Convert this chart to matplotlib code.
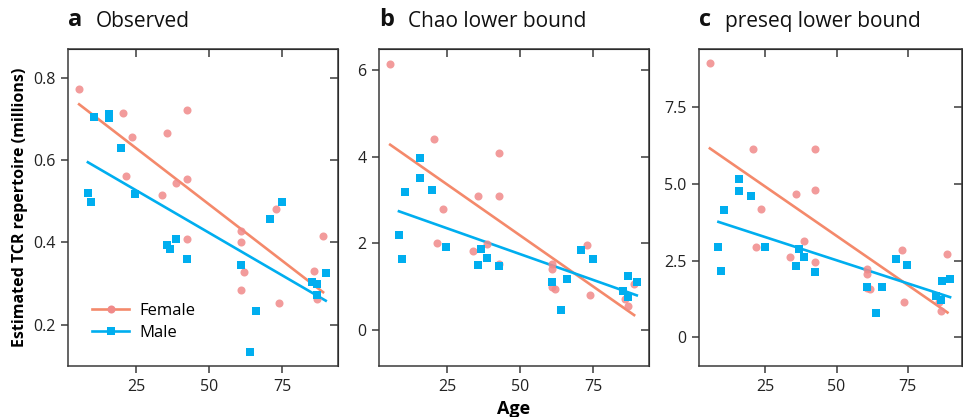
import numpy as np
import matplotlib
matplotlib.use("Agg")
import matplotlib.pyplot as plt

plt.rcParams['font.family'] = ['Open Sans', 'DejaVu Sans']

# ages (same donors in every panel)
female_age = [5.6, 20.7, 42.6, 23.6, 35.7, 21.7, 38.7, 42.6, 33.8, 42.6,
              60.8, 60.8, 61.8, 60.8, 72.8, 73.7, 88.9, 85.8, 86.7]
male_age = [8.6, 9.5, 10.7, 15.8, 15.8, 19.9, 24.8, 35.7, 36.7, 38.6,
            42.6, 60.8, 63.9, 66.0, 70.7, 74.8, 85.0, 86.9, 86.7, 89.8]

# a: observed (millions)
female_observed = [0.772, 0.715, 0.722, 0.656, 0.665, 0.562, 0.545, 0.554, 0.515, 0.409,
                   0.429, 0.400, 0.329, 0.285, 0.482, 0.254, 0.415, 0.330, 0.263]
male_observed = [0.521, 0.499, 0.705, 0.712, 0.703, 0.630, 0.519, 0.394, 0.385, 0.409,
                 0.359, 0.345, 0.133, 0.233, 0.456, 0.499, 0.303, 0.300, 0.273, 0.326]

# b: Chao lower bound
female_chao = [6.14, 4.41, 4.09, 2.79, 3.10, 2.01, 1.99, 3.08, 1.82, 1.53,
               1.53, 1.41, 0.94, 1.00, 1.97, 0.80, 1.07, 0.71, 0.55]
male_chao = [2.19, 1.63, 3.18, 3.96, 3.50, 3.22, 1.91, 1.50, 1.87, 1.67,
             1.47, 1.10, 0.46, 1.17, 1.85, 1.64, 0.90, 1.24, 0.77, 1.11]

# c: preseq lower bound
female_preseq = [8.92, 6.13, 6.13, 4.16, 4.67, 2.94, 3.13, 4.80, 2.63, 2.45,
                 2.21, 2.06, 1.56, 1.62, 2.84, 1.15, 2.72, 1.15, 0.86]
male_preseq = [2.94, 2.15, 4.15, 5.16, 4.76, 4.60, 2.94, 2.31, 2.86, 2.62,
               2.12, 1.64, 0.79, 1.64, 2.55, 2.36, 1.35, 1.84, 1.21, 1.90]

panels = [
    ("a", "Observed", female_observed, male_observed,
     (0.10, 0.87), [0.2, 0.4, 0.6, 0.8], ["0.2", "0.4", "0.6", "0.8"]),
    ("b", "Chao lower bound", female_chao, male_chao,
     (-0.83, 6.48), [0, 2, 4, 6], ["0", "2", "4", "6"]),
    ("c", "preseq lower bound", female_preseq, male_preseq,
     (-0.93, 9.38), [0, 2.5, 5.0, 7.5], ["0", "2.5", "5.0", "7.5"]),
]

FEMALE_DOT = "#f08a8a"
FEMALE_LINE = "#f4896b"
MALE = "#00aeef"
SPINE = "#3a3a3a"

fig = plt.figure(figsize=(9.63, 4.17), dpi=100)
boxes = [(0.0706, 0.1223, 0.2804, 0.7602),
         (0.3936, 0.1223, 0.2804, 0.7602),
         (0.7259, 0.1223, 0.2731, 0.7602)]

for (letter, name, fvals, mvals, ylim, yticks, ylabels), box in zip(panels, boxes):
    ax = fig.add_axes(box)

    # linear fits over each group's age range
    fa, fv = np.array(female_age), np.array(fvals)
    ma, mv = np.array(male_age), np.array(mvals)
    fk = np.polyfit(fa, fv, 1)
    mk = np.polyfit(ma, mv, 1)
    fx = np.array([fa.min(), fa.max()])
    mx = np.array([ma.min(), ma.max()])
    ax.plot(fx, np.polyval(fk, fx), color=FEMALE_LINE, lw=1.9, zorder=2)
    ax.plot(mx, np.polyval(mk, mx), color=MALE, lw=1.9, zorder=2)

    ax.plot(fa, fv, 'o', color=FEMALE_DOT, ms=5.8, mew=0, alpha=0.85, zorder=3)
    ax.plot(ma, mv, 's', color=MALE, ms=6.2, mew=0, zorder=3)

    ax.set_xlim(1.8, 94)
    ax.set_ylim(*ylim)
    ax.set_xticks([25, 50, 75])
    ax.set_yticks(yticks)
    ax.set_yticklabels(ylabels)
    for s in ax.spines.values():
        s.set_color(SPINE)
        s.set_linewidth(1.1)
    ax.tick_params(direction='out', length=5, width=1.1, color=SPINE,
                   labelsize=11.5, labelcolor="#222222", pad=4)

    # inward ticks on top and right
    top = ax.secondary_xaxis('top')
    top.set_xticks([25, 50, 75])
    top.tick_params(direction='in', length=6, width=1.1, color=SPINE, labeltop=False)
    right = ax.secondary_yaxis('right')
    right.set_yticks(yticks)
    right.tick_params(direction='in', length=6, width=1.1, color=SPINE, labelright=False)

    t = ax.text(0.0, 1.055, letter, transform=ax.transAxes, fontsize=17,
                fontweight='bold', ha='left', va='bottom', color="#111111")
    ax.annotate(name, xy=(1, 0), xycoords=t, xytext=(10, 0),
                textcoords='offset points', fontsize=15, ha='left', va='bottom',
                color="#111111")

    if letter == "a":
        ax.set_ylabel("Estimated TCR repertoire (millions)", fontsize=11.5,
                      fontweight='bold', labelpad=4)
        ax.plot([], [], '-o', color=FEMALE_LINE, mfc=FEMALE_DOT, mew=0, ms=5.8,
                lw=1.9, label="Female")
        ax.plot([], [], '-s', color=MALE, mew=0, ms=6.2, lw=1.9, label="Male")
        ax.legend(loc='center left', bbox_to_anchor=(0.09, 0.14), frameon=False,
                  fontsize=12, borderpad=0, borderaxespad=0, handlelength=2.2,
                  handletextpad=0.6, labelspacing=0.35)
    if letter == "b":
        ax.set_xlabel("Age", fontsize=13, fontweight='bold', labelpad=4)

fig.savefig("out.png", dpi=100)
